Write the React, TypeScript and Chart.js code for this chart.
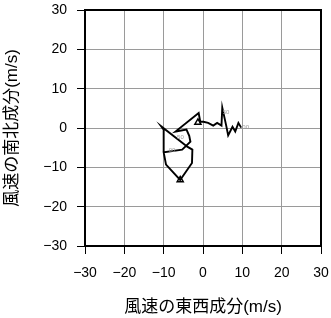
import React, { useEffect, useRef } from "react";
import { Chart, registerables } from "chart.js";

Chart.register(...registerables);

// Hodograph: east-west (u) and north-south (v) wind components, m/s
const windU = [9.7, 9.0, 8.2, 7.5, 6.4, 5.9, 4.9, 4.7, 3.6, 2.6, 1.3, 0.1, -0.7, -1.1, -7.0, -4.2, -3.5, -3.2, -5.3, -10.0, -9.4, -5.8, -2.8, -2.7, -3.9, -10.6, -10.0, -10.0];
const windV = [0.1, 1.3, -0.9, 0.3, -1.9, 0.6, 5.2, 0.6, 1.3, 0.6, 1.3, 1.6, 1.6, 3.8, -0.9, -0.4, -2.0, -3.5, -5.5, -6.2, -9.3, -13.2, -8.9, -5.5, -4.8, 0.4, -0.4, -6.2];

// arrow heads along the trace
const arrowU = [-5.8, -1.3];
const arrowV = [-13.2, 1.4];

// small height labels beside the trace
const heightLabels = ["00", "50", "50", "00"];
const labelU = [10.0, 5.0, -6.6, -8.7];
const labelV = [0.2, 4.0, -2.4, -5.6];

const axisTicks = [-30, -20, -10, 0, 10, 20, 30];
const xTitle = "風速の東西成分(m/s)";
const yTitle = "風速の南北成分(m/s)";

const FONT = "'Liberation Sans', Arial, 'Noto Sans CJK JP', sans-serif";

const fmt = (v: number) => (v < 0 ? "\u2212" + Math.abs(v) : String(v));

export default function App() {
  const ref = useRef<HTMLCanvasElement | null>(null);

  useEffect(() => {
    if (!ref.current) return;
    const framePlugin = {
      id: "frame",
      afterDatasetsDraw(chart: any) {
        const { ctx, chartArea, scales } = chart;
        ctx.save();
        ctx.fillStyle = "#9a9a9a";
        ctx.font = `6px ${FONT}`;
        ctx.textAlign = "left";
        ctx.textBaseline = "middle";
        heightLabels.forEach((t, i) => {
          ctx.fillText(t, scales.x.getPixelForValue(labelU[i]), scales.y.getPixelForValue(labelV[i]));
        });
        ctx.strokeStyle = "#000";
        ctx.lineWidth = 2;
        ctx.strokeRect(chartArea.left, chartArea.top, chartArea.right - chartArea.left, chartArea.bottom - chartArea.top);
        ctx.restore();
      },
    };

    const chart = new Chart(ref.current, {
      type: "scatter",
      data: {
        datasets: [
          {
            data: windU.map((u, i) => ({ x: u, y: windV[i] })),
            showLine: true,
            borderColor: "#000",
            borderWidth: 1.9,
            pointRadius: 0,
            tension: 0,
          },
          {
            data: arrowU.map((u, i) => ({ x: u, y: arrowV[i] })),
            showLine: false,
            pointStyle: "triangle",
            pointRadius: 3.5,
            borderColor: "#000",
            borderWidth: 1.5,
            backgroundColor: "#fff",
          },
        ],
      },
      options: {
        responsive: false,
        animation: false,
        layout: { padding: { top: 10, right: 10, left: 0, bottom: 0 } },
        plugins: { legend: { display: false }, tooltip: { enabled: false } },
        scales: {
          x: {
            type: "linear",
            min: -30,
            max: 30,
            afterBuildTicks: (s: any) => {
              s.ticks = axisTicks.map((v) => ({ value: v }));
            },
            afterFit: (s: any) => {
              s.height = 72;
              s.paddingLeft = 0;
              s.paddingRight = 0;
              s.paddingTop = 0;
              s.paddingBottom = 0;
            },
            ticks: {
              callback: (v: any) => fmt(Number(v)),
              color: "#000",
              font: { family: FONT, size: 14 },
              padding: 11,
              maxRotation: 0,
            },
            grid: { color: "#9a9a9a", lineWidth: 1, tickColor: "#000", tickLength: 8, tickWidth: 1 },
            border: { display: false },
            title: {
              display: true,
              text: xTitle,
              color: "#000",
              font: { family: FONT, size: 17 },
              padding: { top: 0, bottom: 0 },
            },
          },
          y: {
            type: "linear",
            min: -30,
            max: 30,
            afterBuildTicks: (s: any) => {
              s.ticks = axisTicks.map((v) => ({ value: v }));
            },
            afterFit: (s: any) => {
              s.width = 85;
              s.paddingLeft = 0;
              s.paddingRight = 0;
              s.paddingTop = 0;
              s.paddingBottom = 0;
            },
            ticks: {
              callback: (v: any) => fmt(Number(v)),
              color: "#000",
              font: { family: FONT, size: 14 },
              padding: 10,
            },
            grid: { color: "#9a9a9a", lineWidth: 1, tickColor: "#000", tickLength: 8, tickWidth: 1 },
            border: { display: false },
            title: {
              display: true,
              text: yTitle,
              color: "#000",
              font: { family: FONT, size: 17 },
              padding: { top: 2, bottom: 0 },
            },
          },
        },
      },
      plugins: [framePlugin],
    } as any);
    return () => chart.destroy();
  }, []);

  return (
    <div style={{ position: "fixed", left: 0, top: 0, width: 331, height: 318, background: "#fff" }}>
      <canvas ref={ref} width={331} height={318} style={{ display: "block" }} />
    </div>
  );
}
